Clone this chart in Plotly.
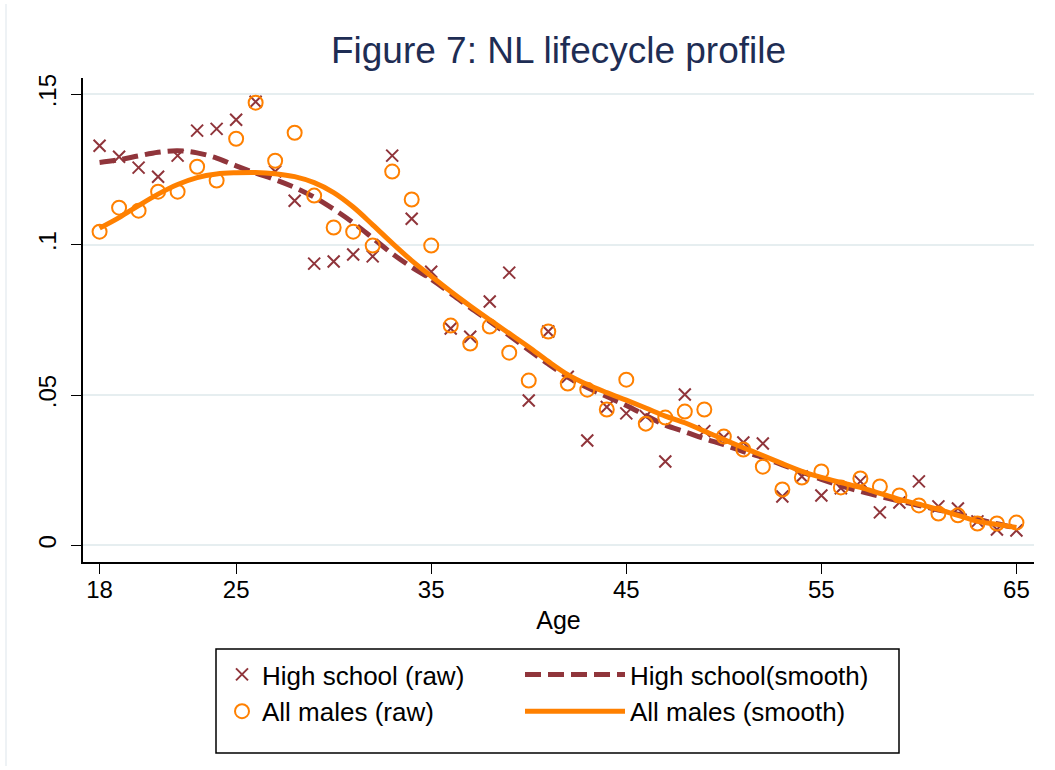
import plotly.graph_objects as go

ages = list(range(18, 66))

hs_raw = [.1329, .1292, .1256, .1226, .1296, .1379, .1385, .1415, .1475, .1243,
          .1146, .0937, .0944, .0967, .0961, .1296, .1086, .0910, .0721, .0694,
          .0811, .0907, .0482, .0711, .0561, .0349, .0460, .0439, .0430, .0279,
          .0502, .0380, .0359, .0342, .0339, .0163, .0229, .0166, .0190, .0213,
          .0110, .0143, .0213, .0130, .0123, .0080, .0053, .0050]

am_raw = [.1043, .1123, .1113, .1176, .1176, .1259, .1213, .1352, .1472, .1279,
          .1372, .1163, .1057, .1043, .0997, .1243, .1150, .0997, .0731, .0671,
          .0728, .0641, .0548, .0711, .0538, .0518, .0452, .0551, .0405, .0425,
          .0445, .0452, .0362, .0319, .0262, .0186, .0226, .0246, .0193, .0223,
          .0196, .0166, .0133, .0106, .0100, .0073, .0073, .0076]

hs_smooth = [.1273, .1282, .1295, .1307, .1312, .1305, .1288, .1262, .1238, .1216,
             .1190, .1158, .1118, .1073, .1022, .0970, .0925, .0885, .0838, .0790,
             .0745, .0698, .0650, .0603, .0560, .0525, .0495, .0465, .0432, .0400,
             .0378, .0355, .0335, .0312, .0292, .0268, .0244, .0220, .0198, .0180,
             .0163, .0148, .0133, .0118, .0104, .0088, .0072, .0058]

am_smooth = [.1055, .1090, .1130, .1168, .1200, .1223, .1235, .1239, .1240, .1236,
             .1226, .1206, .1173, .1125, .1066, .1005, .0947, .0895, .0844, .0796,
             .0750, .0705, .0660, .0612, .0568, .0535, .0508, .0483, .0457, .0430,
             .0408, .0380, .0352, .0325, .0299, .0272, .0246, .0226, .0209, .0193,
             .0173, .0153, .0137, .0120, .0100, .0080, .0070, .0060]

x_ticks = [18, 25, 35, 45, 55, 65]
y_ticks = [0, 0.05, 0.1, 0.15]
y_ticktext = ["0", ".05", ".1", ".15"]

MAROON = "#90353b"
ORANGE = "#ff8000"
FONT = "Liberation Sans, Arial, sans-serif"

fig = go.Figure()
fig.add_trace(go.Scatter(
    x=ages, y=hs_raw, mode="markers", name="High school (raw)", legend="legend",
    marker=dict(symbol="x-thin", size=12, line=dict(color=MAROON, width=2), color=MAROON)))
fig.add_trace(go.Scatter(
    x=ages, y=hs_smooth, mode="lines", name="High school(smooth)", legend="legend2",
    line=dict(color=MAROON, width=5, dash="16px,7px", shape="spline")))
fig.add_trace(go.Scatter(
    x=ages, y=am_raw, mode="markers", name="All males (raw)", legend="legend",
    marker=dict(symbol="circle-open", size=14, line=dict(color=ORANGE, width=2), color=ORANGE)))
fig.add_trace(go.Scatter(
    x=ages, y=am_smooth, mode="lines", name="All males (smooth)", legend="legend2",
    line=dict(color=ORANGE, width=5, shape="spline")))

L, R, T, B = 83, 1034, 78, 562
W, H = 1055, 770
pw, ph = R - L, B - T

def px(xp):
    return (xp - L) / pw

def py(yp):
    return (B - yp) / ph

fig.update_layout(
    width=W, height=H,
    margin=dict(l=L, r=W - R, t=T, b=H - B),
    paper_bgcolor="white", plot_bgcolor="white",
    font=dict(family=FONT, color="black", size=24),
    title=dict(text="Figure 7: NL lifecycle profile", x=0.5, xref="paper",
               y=1 - 50 / H, yref="container", yanchor="middle", xanchor="center",
               font=dict(size=37, color="#1e2d54", family=FONT)),
    xaxis=dict(range=[17.15, 65.9], tickvals=x_ticks, ticks="outside", ticklen=10,
               tickwidth=1, tickcolor="black", showline=True, linecolor="black",
               linewidth=1.5, showgrid=False, zeroline=False, automargin=False,
               tickfont=dict(size=24, family=FONT), ticklabelstandoff=-5,
               title=dict(text="Age", font=dict(size=25, family=FONT), standoff=10)),
    yaxis=dict(range=[-0.0055, 0.1554], tickvals=y_ticks, ticktext=y_ticktext,
               ticks="outside", ticklen=10, tickwidth=1, tickcolor="black",
               showline=True, linecolor="black", linewidth=1.5, automargin=False,
               showgrid=True, gridcolor="#e6eef0", gridwidth=1.5, zeroline=False,
               tickangle=-90, tickfont=dict(size=24, family=FONT),
               ticklabelstandoff=6),
    legend=dict(x=px(222), y=py(651), xanchor="left", yanchor="top",
                orientation="v", bgcolor="rgba(0,0,0,0)", borderwidth=0,
                font=dict(size=26, family=FONT), itemwidth=30, tracegroupgap=0),
    legend2=dict(x=px(520), y=py(651), xanchor="left", yanchor="top",
                 orientation="v", bgcolor="rgba(0,0,0,0)", borderwidth=0,
                 font=dict(size=26, family=FONT), itemwidth=100, tracegroupgap=0),
    shapes=[
        dict(type="rect", xref="paper", yref="paper",
             x0=px(216), x1=px(899), y0=py(649), y1=py(753),
             line=dict(color="black", width=1.5), fillcolor="rgba(0,0,0,0)"),
        dict(type="line", xref="paper", yref="paper",
             x0=px(6), x1=px(6), y0=py(4), y1=py(766),
             line=dict(color="#e8eef2", width=1.5), layer="below"),
    ],
)

fig.write_html("out.html", config={"displayModeBar": False},
               post_script="document.body.style.margin='0px';")
